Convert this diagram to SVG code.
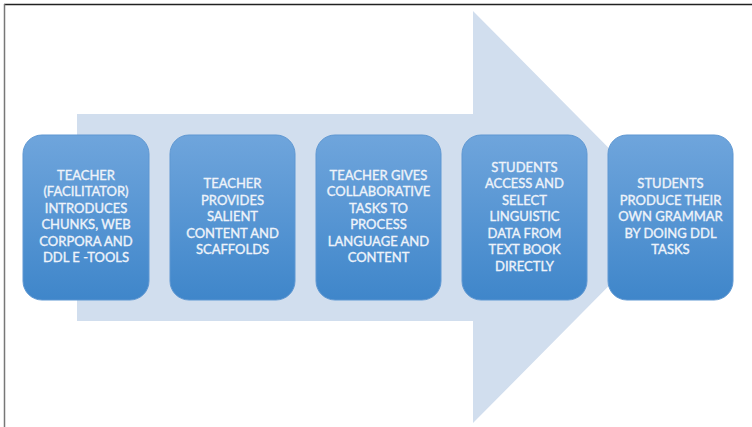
<svg xmlns="http://www.w3.org/2000/svg" width="752" height="427" viewBox="0 0 752 427">
<defs>
<linearGradient id="bg" x1="0" y1="0" x2="0" y2="1">
<stop offset="0" stop-color="#6FA5DC"/>
<stop offset="1" stop-color="#3F86CA"/>
</linearGradient>
<style>
.box{fill:url(#bg);stroke:#5E97D2;stroke-width:1}
.t{font-family:Lato,"Liberation Sans",sans-serif;font-size:13px;fill:#EEF3FA;stroke:#EEF3FA;stroke-width:0.35;text-anchor:middle}
</style>
</defs>
<rect x="0" y="0" width="752" height="427" fill="#FFFFFF"/>
<line x1="4" y1="4.5" x2="752" y2="4.5" stroke="#222222" stroke-width="1.5"/>
<line x1="4.5" y1="4" x2="4.5" y2="427" stroke="#777777" stroke-width="1.5"/>
<g id="connectors">
<polygon points="77,114 473,114 473,11 677,217 473,423 473,321 77,321" fill="#D1DEEE"/>
</g>
<g id="n1">
<rect class="box" x="23" y="135" width="126" height="165" rx="19"/>
<text class="t" x="86" y="179.5">TEACHER</text>
<text class="t" x="86" y="196">(FACILITATOR)</text>
<text class="t" x="86" y="212.5">INTRODUCES</text>
<text class="t" x="86" y="229">CHUNKS, WEB</text>
<text class="t" x="86" y="245.5">CORPORA AND</text>
<text class="t" x="86" y="262">DDL E -TOOLS</text>
</g>
<g id="n2">
<rect class="box" x="170" y="135" width="125" height="165" rx="19"/>
<text class="t" x="232.5" y="188">TEACHER</text>
<text class="t" x="232.5" y="204.5">PROVIDES</text>
<text class="t" x="232.5" y="221">SALIENT</text>
<text class="t" x="232.5" y="237.5">CONTENT AND</text>
<text class="t" x="232.5" y="254">SCAFFOLDS</text>
</g>
<g id="n3">
<rect class="box" x="316" y="135" width="125" height="165" rx="19"/>
<text class="t" x="378.5" y="179.5">TEACHER GIVES</text>
<text class="t" x="378.5" y="196">COLLABORATIVE</text>
<text class="t" x="378.5" y="212.5">TASKS TO</text>
<text class="t" x="378.5" y="229">PROCESS</text>
<text class="t" x="378.5" y="245.5">LANGUAGE AND</text>
<text class="t" x="378.5" y="262">CONTENT</text>
</g>
<g id="n4">
<rect class="box" x="462" y="135" width="125" height="165" rx="19"/>
<text class="t" x="524.5" y="171.5">STUDENTS</text>
<text class="t" x="524.5" y="188">ACCESS AND</text>
<text class="t" x="524.5" y="204.5">SELECT</text>
<text class="t" x="524.5" y="221">LINGUISTIC</text>
<text class="t" x="524.5" y="237.5">DATA FROM</text>
<text class="t" x="524.5" y="254">TEXT BOOK</text>
<text class="t" x="524.5" y="270.5">DIRECTLY</text>
</g>
<g id="n5">
<rect class="box" x="608" y="135" width="125" height="165" rx="19"/>
<text class="t" x="670.5" y="188">STUDENTS</text>
<text class="t" x="670.5" y="204.5">PRODUCE THEIR</text>
<text class="t" x="670.5" y="221">OWN GRAMMAR</text>
<text class="t" x="670.5" y="237.5">BY DOING DDL</text>
<text class="t" x="670.5" y="254">TASKS</text>
</g>
</svg>
